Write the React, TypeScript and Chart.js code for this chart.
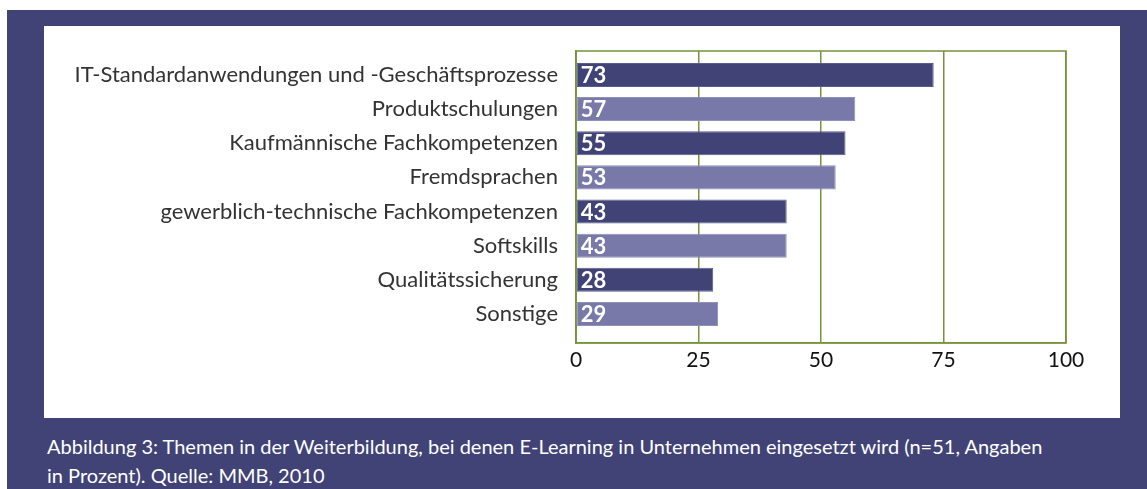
import React, { useEffect, useRef } from "react";
import { Chart, registerables } from "chart.js";

Chart.register(...registerables);

const categories: string[] = [
  "IT-Standardanwendungen und -Geschäftsprozesse",
  "Produktschulungen",
  "Kaufmännische Fachkompetenzen",
  "Fremdsprachen",
  "gewerblich-technische Fachkompetenzen",
  "Softskills",
  "Qualitätssicherung",
  "Sonstige",
];
const values: number[] = [73, 57, 55, 53, 43, 43, 28, 29];
const xTicks: number[] = [0, 25, 50, 75, 100];
const captionLines: string[] = [
  "Abbildung 3: Themen in der Weiterbildung, bei denen E-Learning in Unternehmen eingesetzt wird (n=51, Angaben",
  "in Prozent). Quelle: MMB, 2010",
];

const DARK = "#414376";
const LIGHT = "#7879a8";
const GREEN = "#77933c";
const FONT = "Lato, 'Open Sans', sans-serif";

export default function App() {
  const ref = useRef<HTMLCanvasElement | null>(null);

  useEffect(() => {
    if (!ref.current) return;
    const framePlugin = {
      id: "frame",
      beforeDatasetsDraw(chart: any) {
        const { ctx, chartArea: a } = chart;
        ctx.save();
        ctx.strokeStyle = GREEN;
        ctx.lineWidth = 1.5;
        ctx.strokeRect(a.left, a.top, a.right - a.left, a.bottom - a.top);
        ctx.restore();
      },
    };
    const valuePlugin = {
      id: "values",
      afterDatasetsDraw(chart: any) {
        const { ctx } = chart;
        const meta = chart.getDatasetMeta(0);
        ctx.save();
        ctx.fillStyle = "#ffffff";
        ctx.font = `bold 22px ${FONT}`;
        ctx.textAlign = "left";
        ctx.textBaseline = "middle";
        meta.data.forEach((el: any, i: number) => {
          ctx.fillText(String(values[i]), el.base + 4, el.y + 1);
        });
        ctx.restore();
      },
    };
    const chart = new Chart(ref.current, {
      type: "bar",
      data: {
        datasets: [
          {
            data: values.map((v, i) => ({ x: v, y: i })),
            backgroundColor: values.map((_, i) => (i % 2 === 0 ? DARK : LIGHT)),
            borderColor: values.map((_, i) => (i % 2 === 0 ? "#5a5c8e" : "#8e8fbb")),
            borderWidth: 1,
            borderSkipped: false,
            barPercentage: 0.88,
            categoryPercentage: 0.8,
          },
        ],
      },
      options: {
        animation: false,
        responsive: true,
        maintainAspectRatio: false,
        indexAxis: "y",
        layout: { padding: { top: 25, right: 54, bottom: 0, left: 0 } },
        plugins: { legend: { display: false }, tooltip: { enabled: false } },
        scales: {
          x: {
            type: "linear",
            min: 0,
            max: 100,
            offset: false,
            afterBuildTicks: (scale: any) => {
              scale.ticks = xTicks.map((v) => ({ value: v }));
            },
            afterFit: (scale: any) => {
              scale.height = 75;
            },
            grid: { color: GREEN, lineWidth: 1.5, drawTicks: false, offset: false },
            border: { color: GREEN, width: 1.5 },
            ticks: {
              padding: 5,
              color: "#111111",
              font: { family: FONT, size: 21 },
            },
          },
          y: {
            type: "linear",
            reverse: true,
            offset: false,
            min: -0.7,
            max: 7.85,
            afterBuildTicks: (scale: any) => {
              scale.ticks = categories.map((_, i) => ({ value: i }));
            },
            afterFit: (scale: any) => {
              scale.width = 532;
              scale.paddingTop = 0;
              scale.paddingBottom = 0;
            },
            grid: { display: false, drawTicks: false, offset: false },
            border: { color: GREEN, width: 1.5 },
            ticks: {
              padding: 18,
              color: "#333333",
              font: { family: FONT, size: 22 },
              callback: (v: any) => categories[Math.round(Number(v))] ?? "",
            },
          },
        },
      },
      plugins: [framePlugin, valuePlugin],
    } as any);
    return () => chart.destroy();
  }, []);

  return (
    <div
      style={{
        position: "fixed",
        left: 7,
        top: 10,
        right: 0,
        bottom: 0,
        background: DARK,
        overflow: "hidden",
      }}
    >
      <div
        style={{
          position: "absolute",
          left: 37,
          top: 16,
          width: 1076,
          height: 392,
          background: "#ffffff",
        }}
      >
        <canvas ref={ref} />
      </div>
      <div
        style={{
          position: "absolute",
          left: 40,
          top: 422,
          color: "#ffffff",
          fontFamily: FONT,
          fontSize: 20,
          lineHeight: "29px",
          whiteSpace: "nowrap",
        }}
      >
        {captionLines.map((l, i) => (
          <div key={i}>{l}</div>
        ))}
      </div>
    </div>
  );
}
